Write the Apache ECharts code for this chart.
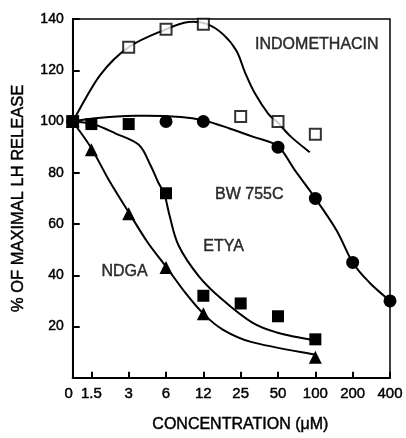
<!DOCTYPE html>
<html>
<head>
<meta charset="utf-8">
<script src="https://cdn.jsdelivr.net/npm/echarts@6/dist/echarts.min.js"></script>
<style>
  html, body { margin: 0; padding: 0; background: #fff; }
  #chart { width: 406px; height: 438px; }
</style>
</head>
<body>
<div id="chart"></div>
<script>
// ---- Axis: concentration tick labels and their step positions on the dose axis ----
const doseLabels = ['0', '1.5', '3', '6', '12', '25', '50', '100', '200', '400'];
const doseSteps  = [0, 0.5, 1.5, 2.5, 3.5, 4.5, 5.5, 6.5, 7.5, 8.5];
const yTicks = [0, 20, 40, 60, 80, 100, 120, 140];

// ---- Measured points (concentration label, % of maximal LH release) ----
const indoDoses  = ['0', '3', '6', '12', '25', '50', '100'];
const indoValues = [100, 129, 136, 138, 102, 100, 95];

const bwDoses  = ['0', '6', '12', '50', '100', '200', '400'];
const bwValues = [100, 100, 100, 90, 70, 45, 30];

const etyaDoses  = ['0', '1.5', '3', '6', '12', '25', '50', '100'];
const etyaValues = [100, 99, 99, 72, 32, 29, 24, 15];

const ndgaDoses  = ['0', '1.5', '3', '6', '12', '100'];
const ndgaValues = [100, 89, 64, 43, 25, 8];

// ---- Hand-drawn fitted curves (x in dose-axis steps) ----
const indoCurveX = [0, 0.73, 1.5, 2.5, 3.1, 3.6, 4.03, 4.39, 4.62, 4.88, 5.24, 5.5, 5.85, 6.35];
const indoCurveY = [100, 118, 129, 136, 138.8, 138, 134, 127.5, 119, 111, 103, 99.5, 94, 88];

const bwCurveX = [0, 0.6, 1.7, 2.9, 3.5, 4.2, 4.84, 5.5, 5.95, 6.5, 7.07, 7.5, 7.96, 8.5];
const bwCurveY = [100, 101.3, 102.2, 101.8, 100.5, 97.3, 94, 90.3, 81, 70, 57.5, 45, 37, 30];

const etyaCurveX = [0, 0.54, 1.14, 1.77, 2.08, 2.3, 2.46, 2.6, 2.84, 3.38, 4.0, 4.8, 5.46, 6.49];
const etyaCurveY = [100, 99, 95.4, 90.9, 83, 76, 71.6, 63, 51.5, 39.6, 30.6, 21.6, 17.7, 14.5];

const ndgaCurveX = [0, 0.5, 0.96, 1.5, 2.0, 2.5, 3.02, 3.5, 4.0, 4.8, 6.49];
const ndgaCurveY = [100, 89.6, 77.4, 64.6, 53, 43.4, 33.1, 25, 19, 13.9, 9];

// ---- Curve labels ----
const curveNames = ['INDOMETHACIN', 'BW 755C', 'ETYA', 'NDGA'];

const FONT = '"Liberation Sans", Arial, Helvetica, sans-serif';
const INK = '#000';
const HEAVY = { textBorderColor: INK, textBorderWidth: 0.45 };

function stepOf(label) { return doseSteps[doseLabels.indexOf(label)]; }
function pts(doses, values) { return doses.map((d, i) => [stepOf(d), values[i]]); }
function curve(xs, ys) { return xs.map((x, i) => [x, ys[i]]); }

// Smooth (Catmull-Rom) curve drawn through the axis-mapped points
function curveSeries(name, data) {
  return {
    type: 'custom', name: name, data: data, silent: true, z: 2, animation: false,
    clip: true,
    renderItem: function (params, api) {
      if (params.dataIndex !== 0) return null;
      const p = data.map(d => api.coord(d));
      const n = p.length;
      let path = 'M' + p[0][0] + ' ' + p[0][1];
      for (let i = 0; i < n - 1; i++) {
        const p0 = p[Math.max(i - 1, 0)], p1 = p[i], p2 = p[i + 1], p3 = p[Math.min(i + 2, n - 1)];
        const c1x = p1[0] + (p2[0] - p0[0]) / 6, c1y = p1[1] + (p2[1] - p0[1]) / 6;
        const c2x = p2[0] - (p3[0] - p1[0]) / 6, c2y = p2[1] - (p3[1] - p1[1]) / 6;
        path += ' C' + c1x + ' ' + c1y + ' ' + c2x + ' ' + c2y + ' ' + p2[0] + ' ' + p2[1];
      }
      return {
        type: 'path',
        shape: { pathData: path },
        style: { fill: 'none', stroke: INK, lineWidth: 2 }
      };
    }
  };
}
function markers(name, data, symbol, size, hollow) {
  return {
    type: 'scatter', name: name, data: data, symbol: symbol, symbolSize: size, z: 5, animation: false,
    itemStyle: hollow
      ? { color: '#fff', borderColor: INK, borderWidth: 2 }
      : { color: INK, borderColor: INK, borderWidth: 0, opacity: 1 }
  };
}

const annPos = {
  'INDOMETHACIN': [6.54, 130.1],
  'BW 755C': [4.73, 71.6],
  'ETYA': [4.04, 51.1],
  'NDGA': [1.39, 41.5]
};

const chart = echarts.init(document.getElementById('chart'), null, { renderer: 'canvas' });
chart.setOption({
  backgroundColor: '#fff',
  animation: false,
  grid: {
    left: 72.7, right: 16, top: 19, bottom: 55.3,
    show: true, borderColor: INK, borderWidth: 1.5, backgroundColor: 'transparent'
  },
  xAxis: {
    type: 'value', min: 0, max: 8.5,
    name: 'CONCENTRATION (\u03bcM)', nameLocation: 'middle', nameGap: 39,
    nameTextStyle: Object.assign({ fontFamily: FONT, fontSize: 16, color: INK, padding: [0, 0, 0, 18] }, HEAVY),
    axisLine: { show: true, onZero: false, lineStyle: { color: INK, width: 2 } },
    axisTick: { show: true, inside: true, length: 6, customValues: doseSteps.slice(1),
                lineStyle: { color: INK, width: 2 } },
    axisLabel: Object.assign({
      customValues: doseSteps, margin: 9, fontFamily: FONT, fontSize: 15, color: INK,
      formatter: function (v) {
        const i = doseSteps.indexOf(v);
        if (i < 0) return '';
        return i === 0 ? '{z|' + doseLabels[i] + '}' : doseLabels[i];
      },
      rich: { z: Object.assign({ fontFamily: FONT, fontSize: 15, color: INK, padding: [0, 8, 0, 0] }, HEAVY) }
    }, HEAVY),
    splitLine: { show: false }
  },
  yAxis: {
    type: 'value', min: yTicks[0], max: yTicks[yTicks.length - 1], interval: 20,
    name: '% OF MAXIMAL LH RELEASE', nameLocation: 'middle', nameGap: 46,
    nameTextStyle: Object.assign({ fontFamily: FONT, fontSize: 16.5, color: INK }, HEAVY),
    axisLine: { show: true, onZero: false, lineStyle: { color: INK, width: 2 } },
    axisTick: { show: true, inside: true, length: 7, lineStyle: { color: INK, width: 2 } },
    axisLabel: Object.assign({
      margin: 9, fontFamily: FONT, fontSize: 14, color: INK,
      formatter: function (v) { return v === 0 ? '' : String(v); }
    }, HEAVY),
    splitLine: { show: false }
  },
  series: [
    curveSeries('Indomethacin curve', curve(indoCurveX, indoCurveY)),
    curveSeries('BW 755C curve', curve(bwCurveX, bwCurveY)),
    curveSeries('ETYA curve', curve(etyaCurveX, etyaCurveY)),
    curveSeries('NDGA curve', curve(ndgaCurveX, ndgaCurveY)),
    markers('Indomethacin', pts(indoDoses, indoValues), 'rect', 11, true),
    markers('BW 755C', pts(bwDoses, bwValues), 'circle', 13, false),
    markers('ETYA', pts(etyaDoses, etyaValues), 'rect', 12, false),
    markers('NDGA', pts(ndgaDoses, ndgaValues), 'triangle', 13, false),
    {
      type: 'scatter', name: 'labels', silent: true, z: 6, animation: false,
      symbol: 'circle', symbolSize: 1, itemStyle: { color: 'rgba(0,0,0,0)' },
      data: curveNames.map(n => ({ name: n, value: annPos[n] })),
      label: Object.assign({ show: true, position: 'inside', formatter: '{b}',
               fontFamily: FONT, fontSize: 16, color: INK }, HEAVY)
    }
  ]
});
</script>
</body>
</html>
